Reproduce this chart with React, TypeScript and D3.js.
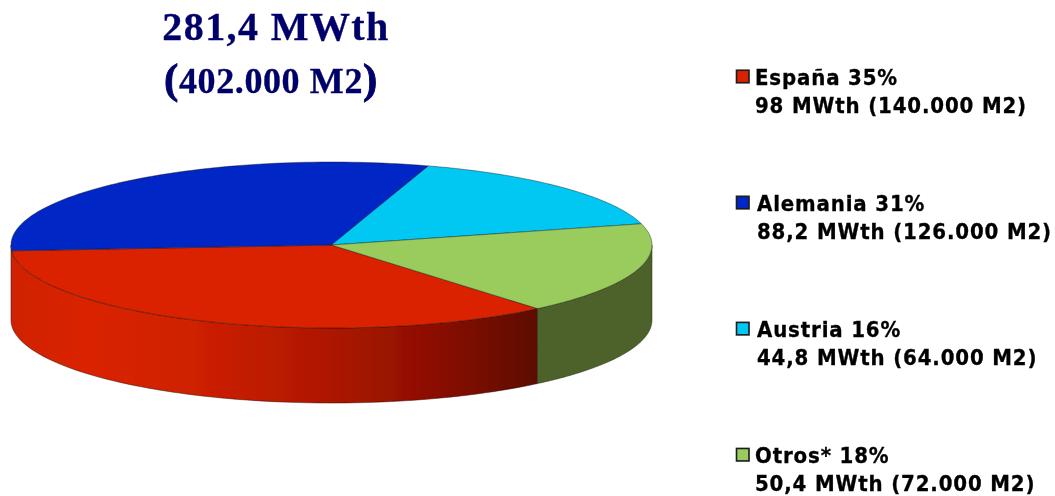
import React from "react";
import * as d3 from "d3";

const categories = ["España", "Alemania", "Austria", "Otros*"];
const percentages = [35, 31, 16, 18];
const detailLines = ["98 MWth (140.000 M2)", "88,2 MWth (126.000 M2)", "44,8 MWth (64.000 M2)", "50,4 MWth (72.000 M2)"];
const topColors = ["#da2200", "#0427c6", "#00c8f3", "#99cc5d"];
const greenWall = "#4d6229";

const W = 1055, H = 496;
const cx = 331.5, cy = 245, rx = 320.5, ry = 83, depth = 75;
const toRad = (deg: number) => (deg * Math.PI) / 180;

const pie = d3.pie<number>().sort(null).startAngle(toRad(140)).endAngle(toRad(500));
const slices = pie(percentages);
const ex = (a: number) => cx + rx * Math.sin(a);
const ey = (a: number) => cy - ry * Math.cos(a);

const arcPoints = (a0: number, a1: number, dy = 0) =>
  d3.range(0, 81).map((i) => {
    const a = a0 + ((a1 - a0) * i) / 80;
    return [ex(a), ey(a) + dy] as [number, number];
  });

const topPath = (s: d3.PieArcDatum<number>) =>
  d3.line()([[cx, cy], ...arcPoints(s.startAngle, s.endAngle)]) + "Z";

const wallPath = (a0: number, a1: number) =>
  d3.line()([...arcPoints(a0, a1), ...arcPoints(a0, a1, depth).reverse()]) + "Z";

const legendY = d3.scalePoint<string>().domain(categories).range([84.5, 462.7]);
const legendX = [755, 757, 757, 755];
const legendFont = "'DejaVu Sans', sans-serif";
const titleFont = "'Liberation Serif', serif";

export default function App() {
  const red = slices[0];
  const legendText = {
    fontFamily: legendFont,
    fontWeight: 700,
    fontStretch: "condensed",
    fontSize: 22,
    letterSpacing: 0.85,
    fill: "#050505",
    stroke: "#050505",
    strokeWidth: 0.3,
  } as const;
  return (
    <svg width={W} height={H} viewBox={`0 0 ${W} ${H}`} style={{ position: "absolute", left: 0, top: 0, background: "#fff" }}>
      <defs>
        <linearGradient id="redWall" gradientUnits="userSpaceOnUse" x1={11} x2={537} y1={0} y2={0}>
          <stop offset="0" stopColor="#cf2100" />
          <stop offset="0.14" stopColor="#da2200" />
          <stop offset="0.35" stopColor="#ce2000" />
          <stop offset="0.6" stopColor="#ae1700" />
          <stop offset="0.8" stopColor="#8c0f00" />
          <stop offset="1" stopColor="#5c0700" />
        </linearGradient>
        <filter id="soft" x="-2%" y="-2%" width="104%" height="104%">
          <feGaussianBlur stdDeviation="0.45" />
        </filter>
      </defs>
      <g filter="url(#soft)">
        <path d={wallPath(red.startAngle, toRad(270))} fill="url(#redWall)" stroke="#2a0600" strokeOpacity={0.6} strokeWidth={0.8} />
        <path d={wallPath(toRad(90), red.startAngle)} fill={greenWall} stroke="#1e2a12" strokeOpacity={0.6} strokeWidth={0.8} />
        {slices.map((s, i) => (
          <path key={categories[i]} d={topPath(s)} fill={topColors[i]} stroke="#111" strokeOpacity={0.5} strokeWidth={0.8} strokeLinejoin="round" />
        ))}
      </g>
      <g filter="url(#soft)">
        <text x={276} y={40} textAnchor="middle" fontFamily={titleFont} fontWeight="bold" fontSize={40} letterSpacing={1.4} fill="#00006b" stroke="#00006b" strokeWidth={0.3}>281,4 MWth</text>
        <text x={271} y={93} textAnchor="middle" fontFamily={titleFont} fontWeight="bold" fontSize={36} letterSpacing={0.6} fill="#00006b" stroke="#00006b" strokeWidth={0.3}>
          <tspan fontSize={43} strokeWidth={0.9}>(</tspan>402.000 M2<tspan fontSize={43} strokeWidth={0.9}>)</tspan>
        </text>
        {categories.map((c, i) => {
          const y = legendY(c)!;
          return (
            <g key={c}>
              <rect x={736.5} y={y - 14.25} width={12.5} height={12.5} fill={topColors[i]} stroke="#1a1a1a" strokeWidth={1.6} />
              <text x={legendX[i]} y={y} {...legendText}>{`${c} ${percentages[i]}%`}</text>
              <text x={legendX[i]} y={y + 28.3} {...legendText}>{detailLines[i]}</text>
            </g>
          );
        })}
      </g>
    </svg>
  );
}
